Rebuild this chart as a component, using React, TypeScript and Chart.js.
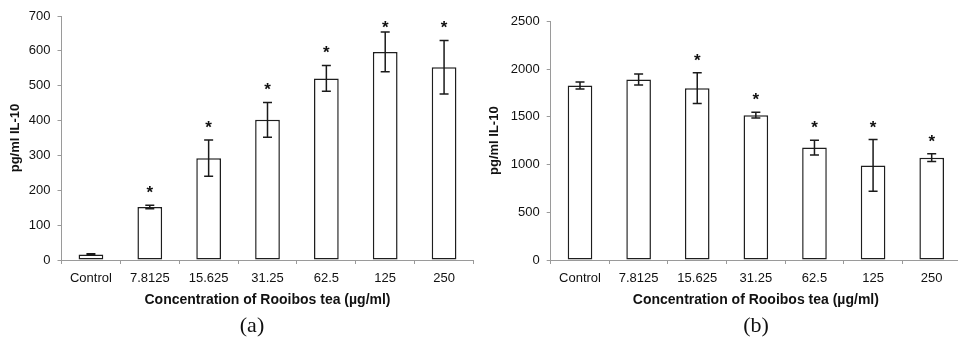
import React, { useEffect, useRef } from "react";
import { Chart, registerables } from "chart.js";

Chart.register(...registerables);

const categories = ["Control", "7.8125", "15.625", "31.25", "62.5", "125", "250"];

const valuesA = [16, 152, 292, 402, 521, 597, 553];
const errorsA = [2, 5, 52, 50, 37, 57, 77];
const sigA = [false, true, true, true, true, true, true];
const ticksA = { max: 700, step: 100 };

const valuesB = [1827, 1890, 1800, 1517, 1177, 990, 1072];
const errorsB = [37, 57, 162, 30, 77, 271, 40];
const sigB = [false, false, true, true, true, true, true];
const ticksB = { max: 2500, step: 500 };

const yTitle = "pg/ml IL-10";
const xTitle = "Concentration of Rooibos tea (µg/ml)";

const FONT = "'Liberation Sans', Arial, sans-serif";
const AXIS = "#9a9a9a";

const errPlugin = {
  id: "errStars",
  afterDatasetsDraw(chart: any, _args: any, opts: any) {
    const { ctx, chartArea } = chart;
    const meta = chart.getDatasetMeta(0);
    const ys = chart.scales.y;
    const vals: number[] = opts.values;
    const errs: number[] = opts.errors;
    const sig: boolean[] = opts.sig;
    ctx.save();
    ctx.strokeStyle = "#1a1a1a";
    ctx.lineWidth = 1.5;
    meta.data.forEach((bar: any, i: number) => {
      const x = bar.x;
      const top = ys.getPixelForValue(vals[i] + errs[i]);
      const bot = ys.getPixelForValue(vals[i] - errs[i]);
      ctx.beginPath();
      ctx.moveTo(x, top);
      ctx.lineTo(x, bot);
      ctx.moveTo(x - 4.5, top);
      ctx.lineTo(x + 4.5, top);
      ctx.moveTo(x - 4.5, bot);
      ctx.lineTo(x + 4.5, bot);
      ctx.stroke();
      if (sig[i]) {
        const cy = Math.max(top - 17, chartArea.top + 7);
        ctx.fillStyle = "#111";
        ctx.font = `bold 17px ${FONT}`;
        ctx.textAlign = "center";
        ctx.textBaseline = "alphabetic";
        ctx.fillText("*", x, cy + 10);
      }
    });
    ctx.restore();
  },
};

type PanelProps = {
  values: number[];
  errors: number[];
  sig: boolean[];
  ticks: { max: number; step: number };
  width: number;
  yWidth: number;
  padTop: number;
  padRight: number;
  yTitlePad: number;
};

function Panel(p: PanelProps) {
  const ref = useRef<HTMLCanvasElement>(null);
  useEffect(() => {
    const chart = new Chart(ref.current!, {
      type: "bar",
      data: {
        labels: categories,
        datasets: [
          {
            data: p.values,
            backgroundColor: "#ffffff",
            borderColor: "#1e1e1e",
            borderWidth: 1.5,
            borderSkipped: false,
            categoryPercentage: 1,
            barPercentage: 0.42,
          },
        ],
      },
      options: {
        animation: false,
        responsive: false,
        devicePixelRatio: 1,
        layout: { padding: { left: 0, top: p.padTop, right: p.padRight, bottom: 30 } },
        plugins: {
          legend: { display: false },
          tooltip: { enabled: false },
          errStars: { values: p.values, errors: p.errors, sig: p.sig },
        } as any,
        scales: {
          x: {
            grid: { display: true, drawOnChartArea: false, drawTicks: true, tickLength: 4, color: AXIS, offset: true },
            border: { display: true, color: AXIS, width: 1 },
            ticks: { color: "#111", font: { family: FONT, size: 13 }, padding: 7, maxRotation: 0 },
            title: {
              display: true,
              text: xTitle,
              color: "#111",
              font: { family: FONT, size: 14, weight: "bold" },
              padding: { top: 0, bottom: 0 },
            },
            afterFit: (s: any) => {
              s.height = 49;
            },
          },
          y: {
            min: 0,
            max: p.ticks.max,
            grid: { display: true, drawOnChartArea: false, drawTicks: true, tickLength: 4, color: AXIS },
            border: { display: true, color: AXIS, width: 1 },
            ticks: {
              stepSize: p.ticks.step,
              color: "#111",
              font: { family: FONT, size: 13 },
              padding: 7,
              callback: (v: any) => String(v),
            },
            title: {
              display: true,
              text: yTitle,
              color: "#111",
              font: { family: FONT, size: 13, weight: "bold" },
              padding: { top: p.yTitlePad, bottom: 0 },
            },
            afterFit: (s: any) => {
              s.width = p.yWidth;
            },
          },
        },
      },
      plugins: [errPlugin as any],
    });
    return () => chart.destroy();
  }, []);
  return <canvas ref={ref} width={p.width} height={339} style={{ display: "block", width: p.width, height: 339 }} />;
}

const captionStyle: React.CSSProperties = {
  position: "absolute",
  top: 312,
  fontFamily: "'Liberation Serif', 'Times New Roman', serif",
  fontSize: 22,
  lineHeight: "26px",
  color: "#111",
  transform: "translateX(-50%)",
  whiteSpace: "nowrap",
};

export default function App() {
  return (
    <div style={{ position: "fixed", left: 0, top: 0, width: 958, height: 339, overflow: "hidden", background: "#fff" }}>
      <div style={{ position: "absolute", left: 0, top: 0 }}>
        <Panel values={valuesA} errors={errorsA} sig={sigA} ticks={ticksA} width={480} yWidth={61.5} padTop={16} padRight={6.5} yTitlePad={8} />
      </div>
      <div style={{ position: "absolute", left: 478, top: 0 }}>
        <Panel values={valuesB} errors={errorsB} sig={sigB} ticks={ticksB} width={490} yWidth={72.7} padTop={21.3} padRight={7} yTitlePad={9} />
      </div>
      <div style={{ ...captionStyle, left: 252 }}>(a)</div>
      <div style={{ ...captionStyle, left: 756 }}>(b)</div>
    </div>
  );
}
